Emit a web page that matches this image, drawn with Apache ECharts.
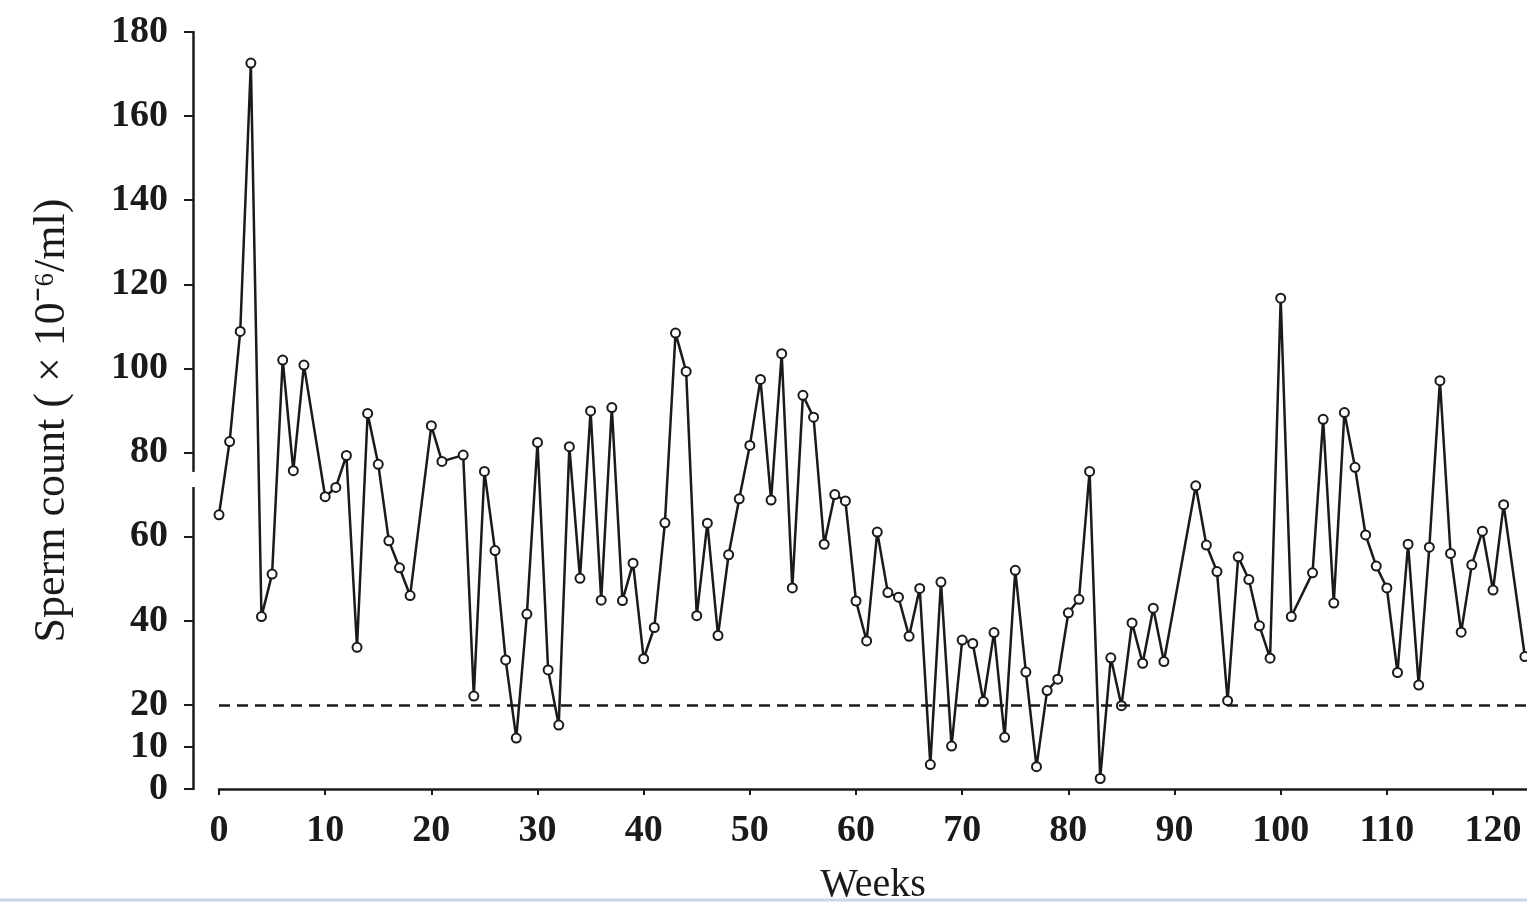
<!DOCTYPE html>
<html>
<head>
<meta charset="utf-8">
<script src="https://cdn.jsdelivr.net/npm/echarts@6/dist/echarts.min.js"></script>
<style>
html,body{margin:0;padding:0;background:#fff;}
#chart{width:1527px;height:903px;}
</style>
</head>
<body>
<div id="chart"></div>
<script>
// Weeks of observation (gaps where no sample was taken)
const weeks = [0,1,2,3,4,5,6,7,8,10,11,12,13,14,15,16,17,18,20,21,23,24,25,26,27,28,29,30,31,32,33,34,35,36,37,38,39,40,41,42,43,44,45,46,47,48,49,50,51,52,53,54,55,56,57,58,59,60,61,62,63,64,65,66,67,68,69,70,71,72,73,74,75,76,77,78,79,80,81,82,83,84,85,86,87,88,89,92,93,94,95,96,97,98,99,100,101,103,104,105,106,107,108,109,110,111,112,113,114,115,116,117,118,119,120,121,123];
// Sperm count (x 10^6 / ml)
const counts = [65.2,82.6,108.8,172.6,41,51.1,102,75.7,100.8,69.5,71.7,79.3,33.7,89.3,77.2,59,52.6,46,86.4,77.9,79.4,22.1,75.5,56.7,30.7,12.1,41.6,82.4,28.3,15.2,81.4,50.1,89.9,44.9,90.7,44.8,53.7,31,38.4,63.3,108.4,99.3,41.2,63.2,36.5,55.7,69,81.7,97.4,68.7,103.5,47.8,93.6,88.4,58.2,70,68.5,44.7,35.2,61.1,46.7,45.6,36.3,47.7,5.8,49.2,10.2,35.4,34.6,20.8,37.2,12.3,52,27.8,5.3,23.4,26.1,41.9,45.1,75.5,2.5,31.2,19.8,39.5,29.9,43,30.3,72.1,58,51.7,21,55.2,49.8,38.8,31.1,116.7,41,51.4,87.9,44.2,89.5,76.5,60.4,53,47.8,27.7,58.2,24.7,57.5,97.1,56,37.3,53.3,61.3,47.3,67.6,31.5];
const xTicks = [0,10,20,30,40,50,60,70,80,90,100,110,120];
const yTicks = [0,10,20,40,60,80,100,120,140,160,180];
const threshold = 20;
const axisBreak = [71.8, 75.4];

const FONT = '"Liberation Serif","Times New Roman",serif';
const INK = '#1a1a1a';
const Y_OFFSET = 26;

const chart = echarts.init(document.getElementById('chart'));
const option = {
  backgroundColor: '#ffffff',
  animation: false,
  grid: {left: 219, right: 0, top: 32, bottom: 114, containLabel: false, outerBoundsMode: 'none'},
  xAxis: {
    type: 'value', min: 0, max: 123.2,
    name: 'Weeks', nameLocation: 'middle', nameGap: 76,
    nameTextStyle: {fontFamily: FONT, fontSize: 40, color: INK},
    axisLine: {show: true, onZero: false, lineStyle: {color: INK, width: 2.5}},
    axisTick: {show: true, length: 6, lineStyle: {color: INK, width: 2}, customValues: xTicks},
    axisLabel: {fontFamily: FONT, fontSize: 38, color: INK, margin: 23, fontWeight: 'bold', customValues: xTicks},
    splitLine: {show: false}
  },
  yAxis: {
    type: 'value', min: 0, max: 180, offset: Y_OFFSET,
    name: 'Sperm count ( × 10⁻⁶/ml)', nameLocation: 'middle', nameGap: 119, nameRotate: 90,
    nameTextStyle: {fontFamily: FONT, fontSize: 44, color: INK, padding: [0, 20, 0, 0]},
    axisLine: {show: true, onZero: false, lineStyle: {color: INK, width: 2.5}},
    axisTick: {show: true, length: 9, lineStyle: {color: INK, width: 2}, customValues: yTicks},
    axisLabel: {fontFamily: FONT, fontSize: 38, color: INK, margin: 25, fontWeight: 'bold', customValues: yTicks},
    splitLine: {show: false}
  },
  series: [{
    type: 'line',
    data: weeks.map((w, i) => [w, counts[i]]),
    lineStyle: {color: INK, width: 2.5},
    symbol: 'circle', symbolSize: 9,
    itemStyle: {color: '#ffffff', borderColor: INK, borderWidth: 2},
    clip: false,
    markLine: {
      silent: true, symbol: 'none',
      label: {show: false},
      lineStyle: {color: INK, width: 2.5, type: [11, 7]},
      data: [{yAxis: threshold}]
    }
  }]
};
chart.setOption(option);

// axis break on the y axis line and screenshot border
const x0 = chart.convertToPixel({xAxisIndex: 0}, 0) - Y_OFFSET;
const yTop = chart.convertToPixel({yAxisIndex: 0}, axisBreak[1]);
const yBot = chart.convertToPixel({yAxisIndex: 0}, axisBreak[0]);
chart.setOption({
  graphic: [
    {type: 'rect', shape: {x: x0 - 4, y: yTop, width: 8, height: yBot - yTop}, style: {fill: '#ffffff'}, z: 100},
    {type: 'line', shape: {x1: 0, y1: 900, x2: 1527, y2: 900}, style: {stroke: '#c9d6ea', lineWidth: 3}, z: 100}
  ]
});
</script>
</body>
</html>
